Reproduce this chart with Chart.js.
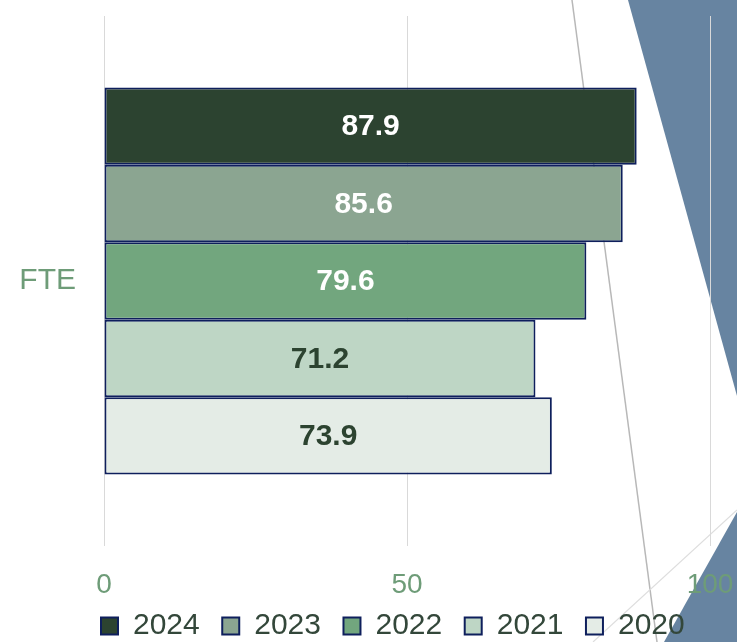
<!DOCTYPE html>
<html><head><meta charset="utf-8">
<script src="https://cdn.jsdelivr.net/npm/chart.js@4"></script>
<style>html,body{margin:0;padding:0;background:#fff;overflow:hidden}#wrap{width:737px;height:642px;position:relative}</style>
</head><body><div id="wrap"><canvas id="c" width="737" height="642"></canvas></div>
<script>
// ---- data ----
const categories = ['FTE'];
const seriesNames = ['2024', '2023', '2022', '2021', '2020'];
const values2024 = [87.9];
const values2023 = [85.6];
const values2022 = [79.6];
const values2021 = [71.2];
const values2020 = [73.9];
const xTickValues = [0, 50, 100];

// ---- styles ----
const fillColors = ['#2c4330', '#8ba591', '#72a67e', '#bed6c5', '#e4ece6'];
const labelColors = ['#ffffff', '#ffffff', '#ffffff', '#2c4330', '#2c4330'];
const borderNavy = '#0e1f5c';
const seriesValues = [values2024, values2023, values2022, values2021, values2020];
const FONT = "'Liberation Sans', Arial, sans-serif";

const backdrop = {
  id: 'backdrop',
  beforeDraw(chart) {
    const ctx = chart.ctx;
    ctx.save();
    ctx.fillStyle = '#ffffff';
    ctx.fillRect(0, 0, chart.width, chart.height);
    ctx.strokeStyle = '#b8b8b8';
    ctx.lineWidth = 1.5;
    ctx.beginPath(); ctx.moveTo(572, 0); ctx.lineTo(657, 642); ctx.stroke();
    ctx.strokeStyle = '#dedede';
    ctx.lineWidth = 1.2;
    ctx.beginPath(); ctx.moveTo(737, 510); ctx.lineTo(593, 642); ctx.stroke();
    ctx.fillStyle = '#6784a1';
    ctx.beginPath(); ctx.moveTo(628, 0); ctx.lineTo(737, 0); ctx.lineTo(737, 396); ctx.closePath(); ctx.fill();
    ctx.beginPath(); ctx.moveTo(737, 512); ctx.lineTo(737, 642); ctx.lineTo(664, 642); ctx.closePath(); ctx.fill();
    ctx.restore();
  }
};

const legendPlace = {
  id: 'legendPlace',
  afterLayout(chart) {
    const lg = chart.legend;
    if (!lg || !lg.lineWidths) return;
    const pad = lg.options.labels.padding;
    const start = (lg.left + pad + lg.right - lg.lineWidths[0]) / 2;
    const d = 101 - start;
    lg.left += d; lg.right += d;
    lg.top = 588.5; lg.bottom = 642; lg.height = 53.5;
  }
};

const barLabels = {
  id: 'barLabels',
  afterDatasetsDraw(chart) {
    const ctx = chart.ctx;
    ctx.save();
    ctx.font = "bold 30px " + FONT;
    ctx.textAlign = 'center';
    ctx.textBaseline = 'middle';
    chart.data.datasets.forEach((ds, i) => {
      const meta = chart.getDatasetMeta(i);
      meta.data.forEach((bar, j) => {
        ctx.fillStyle = labelColors[i];
        ctx.fillText(ds.data[j].toFixed(1), (bar.x + bar.base) / 2, bar.y + 1);
      });
    });
    ctx.restore();
  }
};

function noPad(scale) {
  scale.paddingTop = 0; scale.paddingBottom = 0;
  scale.paddingLeft = 0; scale.paddingRight = 0;
}

new Chart(document.getElementById('c'), {
  type: 'bar',
  data: {
    labels: categories,
    datasets: seriesNames.map((name, i) => ({
      label: name,
      data: seriesValues[i],
      backgroundColor: fillColors[i],
      borderColor: borderNavy,
      borderWidth: 2,
      borderSkipped: false,
      categoryPercentage: 0.7305,
      barPercentage: 1.0
    }))
  },
  options: {
    indexAxis: 'y',
    responsive: false,
    devicePixelRatio: 1,
    animation: false,
    layout: { padding: { left: 0, right: 27, top: 16, bottom: 0 } },
    scales: {
      x: {
        min: 0, max: 100,
        afterBuildTicks(scale) { scale.ticks = xTickValues.map(v => ({ value: v })); },
        afterFit(scale) { noPad(scale); scale.height = 56.6; },
        grid: { color: '#d9d9d9', lineWidth: 1, drawTicks: false },
        border: { display: false },
        ticks: { color: '#6e9c78', font: { family: FONT, size: 28 }, padding: 22, maxRotation: 0 }
      },
      y: {
        afterFit(scale) { noPad(scale); scale.width = 104; },
        grid: { display: false, drawTicks: false },
        border: { display: false },
        ticks: { color: '#6e9c78', font: { family: FONT, size: 30 }, padding: 28 }
      }
    },
    plugins: {
      tooltip: { enabled: false },
      legend: {
        position: 'bottom',
        maxHeight: 39.4,
        labels: {
          boxWidth: 17, boxHeight: 17, padding: 22.5,
          color: '#33473a',
          font: { family: FONT, size: 30 }
        }
      }
    }
  },
  plugins: [backdrop, legendPlace, barLabels]
});
</script>
</body></html>
